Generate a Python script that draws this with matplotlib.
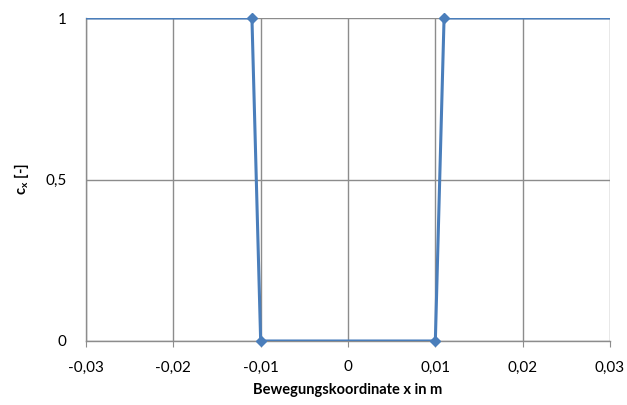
import matplotlib
matplotlib.use("Agg")
import matplotlib.pyplot as plt
from matplotlib.ticker import FixedLocator, FuncFormatter

plt.rcParams['font.family'] = ['Lato', 'DejaVu Sans']
plt.rcParams['mathtext.fontset'] = 'custom'
plt.rcParams['mathtext.rm'] = 'Lato'
plt.rcParams['mathtext.bf'] = 'Lato:bold'

# Coefficient c_x over the motion coordinate x
x_pos = [-0.04, -0.011, -0.01, 0.01, 0.011, 0.04]
c_x = [1, 1, 0, 0, 1, 1]
x_ticks = [-0.03, -0.02, -0.01, 0, 0.01, 0.02, 0.03]
y_ticks = [0, 0.5, 1]

line_color = '#4A7EBB'
grid_color = '#8C8C8C'

fig = plt.figure(figsize=(6.27, 4.05), dpi=100)
ax = fig.add_axes([86 / 627, 1 - 341 / 405, (610 - 86) / 627, (341 - 18) / 405])

ax.plot(x_pos, c_x, color=line_color, lw=2.2, zorder=3, clip_on=True)
ax.plot(x_pos[1:5], c_x[1:5], linestyle='none', marker='D', ms=5.5,
        color=line_color, zorder=4, clip_on=False)

ax.set_xlim(-0.03, 0.03)
ax.set_ylim(0, 1)
ax.xaxis.set_major_locator(FixedLocator(x_ticks))
ax.yaxis.set_major_locator(FixedLocator(y_ticks))


def comma_fmt(v, _):
    if abs(v) < 1e-12:
        return '0'
    s = f'{v:.2f}' if abs(v) < 0.1 else f'{v:g}'
    return s.replace('.', ',')


ax.xaxis.set_major_formatter(FuncFormatter(comma_fmt))
ax.yaxis.set_major_formatter(FuncFormatter(comma_fmt))

ax.grid(True, color=grid_color, lw=1.0, zorder=0)
for side in ['top', 'right']:
    ax.spines[side].set_visible(False)
for side in ['left', 'bottom']:
    ax.spines[side].set_color(grid_color)
    ax.spines[side].set_linewidth(1.0)

ax.tick_params(axis='x', direction='out', length=4, color=grid_color,
               labelsize=11, pad=10, labelcolor='#000000')
ax.tick_params(axis='y', length=0, labelsize=11, pad=14, labelcolor='#000000')

ax.set_xlabel('Bewegungskoordinate x in m', fontsize=10.5, fontweight='bold', labelpad=6)
ax.set_ylabel(r'$\mathbf{c_x}$ [-]', fontsize=10.5, fontweight='bold', labelpad=10)

fig.savefig('out.png', dpi=100)
